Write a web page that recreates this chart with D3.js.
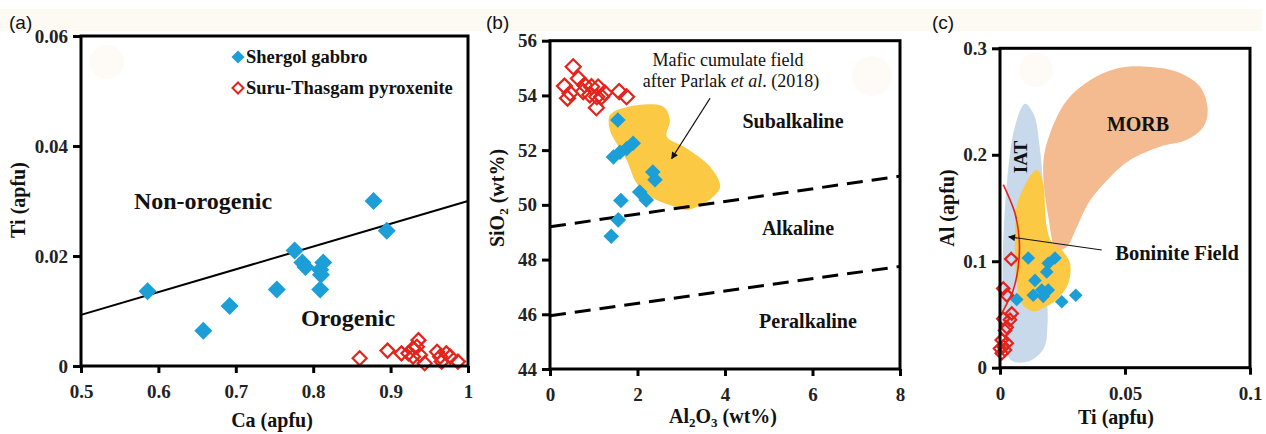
<!DOCTYPE html>
<html><head><meta charset="utf-8">
<script src="https://cdn.jsdelivr.net/npm/d3@7"></script>
<style>
html,body{margin:0;padding:0;background:#fff;}
svg{display:block;}
.tick text{font-family:"Liberation Serif","Times New Roman",serif;font-weight:bold;font-size:19px;fill:#222;}
</style></head>
<body><svg id="chart" width="1266" height="434"></svg>
<script>
// ---------------- DATA ----------------
// Panel (a): Ca vs Ti (apfu)
const aGabbroCa = [0.586,0.658,0.692,0.753,0.776,0.786,0.790,0.809,0.813,0.810,0.809,0.878,0.895];
const aGabbroTi = [0.0136,0.0064,0.0109,0.0139,0.0210,0.0188,0.0180,0.0175,0.0188,0.0166,0.0139,0.0300,0.0246];
const aPyxCa = [0.860,0.896,0.914,0.923,0.929,0.936,0.934,0.929,0.938,0.944,0.960,0.964,0.966,0.972,0.977,0.987];
const aPyxTi = [0.0014,0.0028,0.0023,0.0023,0.0032,0.0047,0.0035,0.0017,0.0020,0.0005,0.0026,0.0017,0.0008,0.0023,0.0017,0.0008];
const aDivideCa = [0.5, 1.0];
const aDivideTi = [0.0093, 0.0300];
const aXTicks = [0.5,0.6,0.7,0.8,0.9,1.0];
const aXTickLabels = ["0.5","0.6","0.7","0.8","0.9","1"];
const aYTicks = [0,0.02,0.04,0.06];
const aYTickLabels = ["0","0.02","0.04","0.06"];

// Panel (b): Al2O3 vs SiO2 (wt%)
const bGabbroAl = [1.55,1.45,1.60,1.75,1.90,2.35,2.40,2.05,2.20,1.62,1.56,1.40];
const bGabbroSi = [53.10,51.75,51.92,52.05,52.25,51.20,50.92,50.47,50.18,50.16,49.45,48.85];
const bPyxAl = [0.53,0.33,0.46,0.65,0.79,0.76,0.95,1.10,1.07,1.06,1.18,1.25,1.58,1.75,0.40,0.91];
const bPyxSi = [55.05,54.34,54.08,54.62,54.38,54.14,54.32,54.31,53.95,53.55,53.95,54.10,54.14,53.95,53.90,54.02];
const bCumulateAl = [1.37,1.75,2.59,2.74,2.67,3.05,3.66,3.89,3.73,3.43,3.12,2.74,2.29,1.98,1.75,1.52,1.37];
const bCumulateSi = [53.28,53.57,53.59,53.10,52.49,52.13,51.39,50.66,50.30,49.99,49.81,49.99,50.30,50.79,51.64,52.25,52.74];
const bUpperLineAl = [0, 8];
const bUpperLineSi = [49.2, 51.05];
const bLowerLineAl = [0, 8];
const bLowerLineSi = [45.95, 47.75];
const bArrowAl = [3.66, 2.78];
const bArrowSi = [53.90, 51.69];
const bXTicks = [0,2,4,6,8];
const bYTicks = [44,46,48,50,52,54,56];

// Panel (c): Ti vs Al (apfu)
const cGabbroTi = [0.0067,0.0113,0.0140,0.0133,0.0167,0.0173,0.0187,0.0193,0.0220,0.0247,0.0303,0.0193];
const cGabbroAl = [0.064,0.103,0.082,0.068,0.073,0.067,0.090,0.098,0.103,0.062,0.068,0.073];
const cPyxTi = [0.0045,0.0013,0.0027,0.0047,0.0040,0.0013,0.0020,0.0027,0.0007,0.0013,0.0007,0.0027,0.0000,0.0020];
const cPyxAl = [0.102,0.0745,0.068,0.051,0.045,0.046,0.035,0.038,0.026,0.020,0.0135,0.023,0.018,0.0166];
const cIATTi = [0.0100,0.0135,0.0160,0.0175,0.0182,0.0188,0.0190,0.0175,0.0115,0.0045,0.0015,0.0010,0.0015,0.0030,0.0058];
const cIATAl = [0.248,0.238,0.205,0.160,0.120,0.070,0.040,0.018,0.006,0.007,0.030,0.080,0.130,0.180,0.225];
const cCumTi = [0.0147,0.0073,0.0060,0.0067,0.0087,0.0133,0.0173,0.0227,0.0273,0.0280,0.0253,0.0207,0.0187,0.0180,0.0173];
const cCumAl = [0.186,0.157,0.126,0.079,0.060,0.053,0.056,0.064,0.079,0.098,0.109,0.118,0.132,0.151,0.173];
const cMorbTi = [0.0227,0.0193,0.0173,0.0200,0.0267,0.0360,0.0467,0.0573,0.0707,0.0800,0.0831,0.0813,0.0747,0.0640,0.0520,0.0440,0.0360,0.0307,0.0267];
const cMorbAl = [0.1105,0.142,0.192,0.220,0.251,0.270,0.281,0.283,0.278,0.264,0.242,0.226,0.214,0.2075,0.195,0.179,0.157,0.132,0.1136];
const cBonTi = [0.0013,0.0060,0.0077,0.0073,0.0053,0.0027,0.0007];
const cBonAl = [0.172,0.145,0.120,0.095,0.073,0.060,0.051];
const cArrowTi = [0.0407, 0.0035];
const cArrowAl = [0.1105, 0.123];
const cXTicks = [0,0.05,0.1];
const cXTickLabels = ["0","0.05","0.1"];
const cYTicks = [0,0.1,0.2,0.3];
const cYTickLabels = ["0","0.1","0.2","0.3"];

const seriesNames = ["Shergol gabbro","Suru-Thasgam pyroxenite"];

// ---------------- STYLE ----------------
const BLUE = "#1c9fd6", RED = "#e4241c", YELLOW = "#fbc943", IATC = "#c7d9ea", MORBC = "#f5bb90";
const SERIF = "'Liberation Serif','Times New Roman',serif";
const SANS = "'Liberation Sans',Arial,sans-serif";

const svg = d3.select("#chart");

// background details
svg.append("rect").attr("x",0).attr("y",9).attr("width",1262).attr("height",22).attr("fill","#fdf9f3");
[[107,62,17],[872,76,20],[1036,70,17]].forEach(c=>{
  svg.append("circle").attr("cx",c[0]).attr("cy",c[1]).attr("r",c[2]).attr("fill","#fefaf6");
});

const defs = svg.append("defs");
defs.append("marker").attr("id","arr").attr("viewBox","0 0 10 10").attr("refX",9).attr("refY",5)
  .attr("markerWidth",9).attr("markerHeight",7).attr("markerUnits","userSpaceOnUse").attr("orient","auto")
  .append("path").attr("d","M0,0L10,5L0,10Z").attr("fill","#111");

const dpath = r => `M0,${-r}L${r},0L0,${r}L${-r},0Z`;
function diamond(g, xs, ys, x, y, r, filled){
  g.selectAll(null).data(xs.map((v,i)=>[v,ys[i]])).join("path")
    .attr("d", dpath(r))
    .attr("transform", d=>`translate(${x(d[0])},${y(d[1])})`)
    .attr("fill", filled ? BLUE : "none")
    .attr("stroke", filled ? "none" : RED)
    .attr("stroke-width", filled ? 0 : 2.2);
}

function axes(g, x, y, xt, xl, yt, yl){
  const [x0,x1] = x.range(), [y0,y1] = y.range();
  const xa = g.append("g").attr("transform",`translate(0,${y0})`)
    .call(d3.axisBottom(x).tickValues(xt).tickFormat((d,i)=>xl[i]).tickSize(7).tickPadding(8).tickSizeOuter(0));
  const ya = g.append("g").attr("transform",`translate(${x0},0)`)
    .call(d3.axisLeft(y).tickValues(yt).tickFormat((d,i)=>yl[i]).tickSize(8).tickPadding(5).tickSizeOuter(0));
  [xa,ya].forEach(a=>{
    a.select(".domain").remove();
    a.selectAll(".tick line").attr("stroke","#000").attr("stroke-width",3);
  });
  xa.selectAll(".tick text").attr("dy","0.9em");
  g.append("rect").attr("x",x0).attr("y",y1).attr("width",x1-x0).attr("height",y0-y1)
    .attr("fill","none").attr("stroke","#000").attr("stroke-width",3);
}

function label(g, txt, x, y, size, weight, family, anchor, rot){
  const t = g.append("text").attr("x",x).attr("y",y).attr("font-size",size).attr("font-weight",weight||"bold")
    .attr("font-family",family||SERIF).attr("text-anchor",anchor||"middle").attr("fill","#111").text(txt);
  if(rot) t.attr("transform",`rotate(${rot},${x},${y})`);
  return t;
}

// ---------------- PANEL A ----------------
{
  const g = svg.append("g");
  const x = d3.scaleLinear().domain([0.5,1]).range([81,468]);
  const y = d3.scaleLinear().domain([0,0.06]).range([366,36]);
  g.append("path").datum(aDivideCa.map((v,i)=>[v,aDivideTi[i]]))
    .attr("d", d3.line().x(d=>x(d[0])).y(d=>y(d[1]))).attr("stroke","#000").attr("stroke-width",2).attr("fill","none");
  diamond(g, aGabbroCa, aGabbroTi, x, y, 9, true);
  diamond(g, aPyxCa, aPyxTi, x, y, 7, false);
  axes(g, x, y, aXTicks, aXTickLabels, aYTicks, aYTickLabels);
  label(g, "Non-orogenic", 203, 209, 24);
  label(g, "Orogenic", 348, 326, 24);
  // legend
  g.append("path").attr("d", dpath(6.5)).attr("transform","translate(238,57)").attr("fill",BLUE);
  g.append("path").attr("d", dpath(5.5)).attr("transform","translate(238,88)")
    .attr("fill","none").attr("stroke",RED).attr("stroke-width",2);
  label(g, seriesNames[0], 246, 63, 18.5, "bold", SERIF, "start");
  label(g, seriesNames[1], 246, 94, 18.5, "bold", SERIF, "start");
  label(g, "Ti (apfu)", 25, 200, 20, "bold", SERIF, "middle", -90);
  label(g, "Ca (apfu)", 272, 427, 20);
  label(g, "(a)", 9, 29, 19, "normal", SANS, "start");
}

// ---------------- PANEL B ----------------
{
  const g = svg.append("g");
  const x = d3.scaleLinear().domain([0,8]).range([550,900]);
  const y = d3.scaleLinear().domain([44,56]).range([369,40.7]);
  g.append("path").datum(bCumulateAl.map((v,i)=>[v,bCumulateSi[i]]))
    .attr("d", d3.line().x(d=>x(d[0])).y(d=>y(d[1])).curve(d3.curveCatmullRomClosed.alpha(0.5)))
    .attr("fill",YELLOW);
  [[bUpperLineAl,bUpperLineSi],[bLowerLineAl,bLowerLineSi]].forEach(([xs,ys])=>{
    g.append("path").datum(xs.map((v,i)=>[v,ys[i]]))
      .attr("d", d3.line().x(d=>x(d[0])).y(d=>y(d[1])))
      .attr("stroke","#000").attr("stroke-width",3).attr("stroke-dasharray","16,9").attr("fill","none");
  });
  diamond(g, bGabbroAl, bGabbroSi, x, y, 7.8, true);
  diamond(g, bPyxAl, bPyxSi, x, y, 7.5, false);
  g.append("path").datum(bArrowAl.map((v,i)=>[v,bArrowSi[i]]))
    .attr("d", d3.line().x(d=>x(d[0])).y(d=>y(d[1]))).attr("stroke","#111").attr("stroke-width",1.1)
    .attr("fill","none").attr("marker-end","url(#arr)");
  axes(g, x, y, bXTicks, bXTicks.map(String), bYTicks, bYTicks.map(String));
  label(g, "Mafic cumulate field", 728, 66, 18, "normal");
  const t = label(g, "", 731, 87, 18, "normal");
  t.append("tspan").text("after Parlak ");
  t.append("tspan").attr("font-style","italic").text("et al");
  t.append("tspan").text(". (2018)");
  label(g, "Subalkaline", 793, 128, 20);
  label(g, "Alkaline", 798, 235, 20);
  label(g, "Peralkaline", 808, 328, 20);
  const yl = label(g, "", 504, 198, 20, "bold", SERIF, "middle", -90);
  yl.append("tspan").text("SiO");
  yl.append("tspan").attr("font-size",13).attr("dy",4).text("2");
  yl.append("tspan").attr("dy",-4).text(" (wt%)");
  const xl = label(g, "", 723, 423, 20);
  xl.append("tspan").text("Al");
  xl.append("tspan").attr("font-size",13).attr("dy",4).text("2");
  xl.append("tspan").attr("dy",-4).text("O");
  xl.append("tspan").attr("font-size",13).attr("dy",4).text("3");
  xl.append("tspan").attr("dy",-4).text(" (wt%)");
  label(g, "(b)", 486, 29, 19, "normal", SANS, "start");
}

// ---------------- PANEL C ----------------
{
  const g = svg.append("g");
  const x = d3.scaleLinear().domain([0,0.1]).range([1000,1250]);
  const y = d3.scaleLinear().domain([0,0.3]).range([367.7,48.3]);
  const closed = d3.line().x(d=>x(d[0])).y(d=>y(d[1])).curve(d3.curveCatmullRomClosed.alpha(0.5));
  g.append("path").datum(cIATTi.map((v,i)=>[v,cIATAl[i]])).attr("d",closed).attr("fill",IATC);
  g.append("path").datum(cMorbTi.map((v,i)=>[v,cMorbAl[i]])).attr("d",closed).attr("fill",MORBC);
  g.append("path").datum(cCumTi.map((v,i)=>[v,cCumAl[i]])).attr("d",closed).attr("fill",YELLOW);
  g.append("path").datum(cBonTi.map((v,i)=>[v,cBonAl[i]]))
    .attr("d", d3.line().x(d=>x(d[0])).y(d=>y(d[1])).curve(d3.curveCatmullRom.alpha(0.5)))
    .attr("stroke",RED).attr("stroke-width",1.6).attr("fill","none");
  diamond(g, cGabbroTi, cGabbroAl, x, y, 6.8, true);
  diamond(g, cPyxTi, cPyxAl, x, y, 6.2, false);
  g.append("path").datum(cArrowTi.map((v,i)=>[v,cArrowAl[i]]))
    .attr("d", d3.line().x(d=>x(d[0])).y(d=>y(d[1]))).attr("stroke","#111").attr("stroke-width",1.1)
    .attr("fill","none").attr("marker-end","url(#arr)");
  axes(g, x, y, cXTicks, cXTickLabels, cYTicks, cYTickLabels);
  label(g, "MORB", 1138, 131, 20);
  label(g, "Boninite Field", 1177, 260, 20.5);
  label(g, "IAT", 1027, 157, 19, "bold", SERIF, "middle", -90);
  label(g, "Al (apfu)", 954, 208, 20, "bold", SERIF, "middle", -90);
  label(g, "Ti (apfu)", 1116, 424, 20);
  label(g, "(c)", 932, 29, 19, "normal", SANS, "start");
}
</script></body></html>
